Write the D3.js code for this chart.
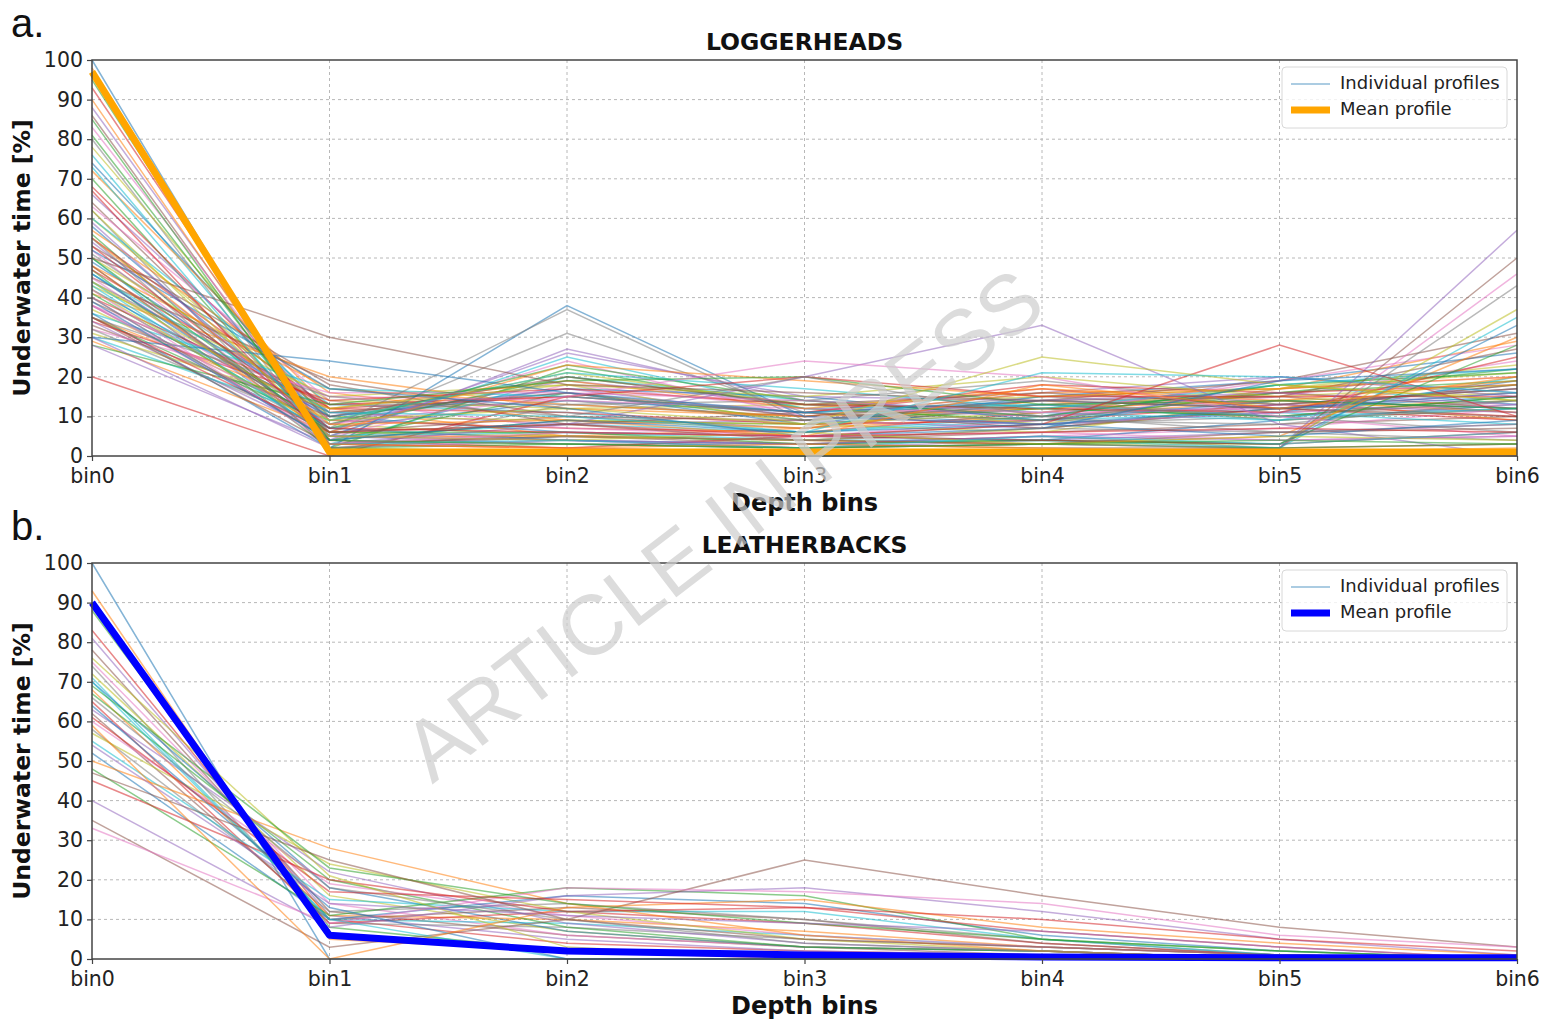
<!DOCTYPE html>
<html>
<head>
<meta charset="utf-8">
<script src="https://cdn.jsdelivr.net/npm/d3@7"></script>
<style>
  body { margin: 0; background: #fff; }
  svg { display: block; }
</style>
</head>
<body>
<div id="container"></div>
<script>
const bins = ["bin0", "bin1", "bin2", "bin3", "bin4", "bin5", "bin6"];
const yTicks = [0, 10, 20, 30, 40, 50, 60, 70, 80, 90, 100];

// loggerhead individual profiles, % underwater time per depth bin
const loggerheadProfiles = [
    [100, 0, 0, 0, 0, 0, 0],
    [98, 1, 0, 1, 0, 0, 0],
    [95, 2, 1, 0, 1, 0, 1],
    [93, 4, 2, 1, 1, 2, 3],
    [88, 5, 3, 2, 4, 6, 8],
    [86, 3, 5, 4, 6, 8, 10],
    [83, 6, 4, 3, 5, 7, 12],
    [80, 2, 6, 5, 8, 10, 6],
    [78, 8, 5, 4, 7, 12, 14],
    [76, 5, 8, 6, 9, 11, 8],
    [74, 10, 6, 5, 4, 9, 13],
    [72, 12, 5, 7, 10, 14, 9],
    [70, 4, 9, 8, 12, 10, 15],
    [68, 9, 7, 6, 11, 16, 12],
    [66, 11, 8, 9, 7, 13, 17],
    [64, 6, 10, 7, 13, 15, 11],
    [63, 14, 7, 5, 9, 17, 20],
    [62, 1, 13, 10, 15, 12, 18],
    [60, 10, 9, 8, 6, 14, 16],
    [60, 13, 11, 6, 10, 18, 13],
    [58, 7, 14, 11, 8, 11, 19],
    [57, 16, 9, 7, 14, 9, 12],
    [56, 4, 16, 9, 12, 16, 22],
    [55, 12, 11, 8, 9, 13, 10],
    [54, 9, 17, 10, 16, 20, 15],
    [53, 18, 8, 11, 7, 12, 18],
    [52, 5, 18, 12, 10, 15, 24],
    [51, 11, 14, 9, 13, 11, 14],
    [50, 14, 12, 13, 8, 17, 21],
    [50, 3, 20, 14, 11, 9, 12],
    [49, 10, 16, 8, 15, 19, 26],
    [48, 17, 13, 10, 12, 14, 11],
    [47, 2, 22, 12, 9, 16, 19],
    [47, 12, 15, 11, 17, 12, 9],
    [46, 8, 19, 13, 10, 20, 16],
    [45, 19, 10, 9, 14, 15, 27],
    [45, 6, 24, 10, 8, 11, 13],
    [44, 13, 13, 14, 19, 13, 17],
    [43, 15, 18, 8, 11, 18, 14],
    [43, 5, 25, 12, 13, 9, 20],
    [42, 10, 17, 15, 9, 14, 12],
    [41, 20, 12, 10, 16, 17, 29],
    [41, 7, 20, 13, 12, 10, 15],
    [40, 13, 15, 11, 18, 16, 18],
    [40, 4, 27, 14, 10, 13, 11],
    [39, 11, 16, 10, 14, 19, 31],
    [38, 15, 14, 12, 11, 12, 16],
    [38, 6, 31, 11, 9, 8, 14],
    [37, 9, 21, 13, 15, 17, 23],
    [36, 17, 15, 11, 13, 10, 12],
    [36, 2, 38, 10, 8, 12, 15],
    [35, 12, 19, 12, 17, 14, 19],
    [35, 8, 23, 14, 10, 18, 21],
    [34, 14, 17, 13, 12, 11, 25],
    [34, 5, 26, 15, 14, 16, 13],
    [33, 10, 20, 13, 16, 13, 17],
    [32, 16, 16, 14, 11, 19, 28],
    [32, 7, 37, 9, 13, 10, 14],
    [31, 12, 18, 15, 20, 15, 18],
    [30, 9, 21, 17, 12, 18, 22],
    [30, 24, 16, 11, 14, 12, 16],
    [29, 6, 23, 19, 15, 17, 20],
    [28, 13, 19, 20, 13, 14, 12],
    [20, 0, 15, 20, 15, 15, 15],
    [30, 2, 4, 2, 3, 2, 57],
    [35, 3, 5, 3, 2, 2, 50],
    [38, 5, 4, 2, 3, 2, 46],
    [40, 4, 3, 3, 5, 2, 43],
    [42, 6, 5, 4, 3, 3, 37],
    [44, 5, 6, 4, 4, 2, 35],
    [46, 7, 4, 3, 4, 3, 33],
    [48, 5, 5, 4, 3, 5, 30],
    [50, 6, 6, 3, 4, 3, 28],
    [35, 6, 8, 5, 8, 28, 10],
    [28, 3, 8, 20, 33, 8, 0],
    [50, 30, 18, 16, 14, 12, 10],
    [38, 8, 15, 24, 20, 10, 5],
    [35, 15, 10, 20, 10, 6, 4],
    [44, 9, 12, 8, 25, 18, 14],
    [46, 11, 10, 6, 21, 20, 16],
    [52, 17, 12, 5, 7, 19, 22],
    [55, 8, 9, 5, 18, 12, 20],
    [85, 2, 3, 2, 3, 2, 3],
    [67, 3, 2, 5, 4, 3, 6],
    [59, 5, 4, 3, 5, 4, 5],
    [48, 6, 8, 4, 3, 6, 7],
    [42, 3, 6, 5, 6, 4, 5],
    [55, 2, 5, 4, 7, 6, 8],
    [62, 5, 4, 6, 3, 5, 4],
    [73, 3, 4, 2, 5, 3, 6],
    [39, 4, 9, 6, 8, 5, 9],
    [90, 3, 2, 3, 2, 1, 2],
    [81, 4, 3, 2, 3, 4, 3],
    [53, 7, 6, 5, 6, 7, 6]
];

const leatherbackProfiles = [
    [100, 0, 0, 0, 0, 0, 0],
    [93, 5, 2, 0, 0, 0, 0],
    [88, 8, 2, 1, 1, 0, 0],
    [83, 10, 4, 2, 1, 0, 0],
    [81, 11, 5, 2, 1, 0, 0],
    [78, 12, 6, 3, 1, 0, 0],
    [75, 14, 6, 3, 2, 0, 0],
    [74, 9, 8, 5, 3, 1, 0],
    [72, 16, 7, 3, 2, 0, 0],
    [71, 10, 9, 6, 3, 1, 0],
    [70, 18, 7, 3, 2, 0, 0],
    [68, 11, 10, 7, 3, 1, 0],
    [67, 20, 8, 3, 2, 0, 0],
    [65, 9, 12, 9, 4, 1, 0],
    [63, 22, 9, 4, 2, 0, 0],
    [62, 10, 13, 10, 4, 1, 0],
    [60, 19, 11, 6, 3, 1, 0],
    [58, 12, 14, 10, 5, 1, 0],
    [57, 24, 12, 5, 2, 0, 0],
    [55, 15, 12, 12, 5, 1, 0],
    [52, 10, 16, 14, 6, 2, 0],
    [50, 28, 14, 6, 2, 0, 0],
    [48, 11, 18, 16, 5, 2, 0],
    [45, 20, 12, 13, 7, 3, 0],
    [40, 8, 16, 18, 12, 5, 1],
    [35, 3, 10, 25, 16, 8, 3],
    [33, 9, 18, 17, 14, 6, 3],
    [66, 18, 10, 4, 2, 0, 0],
    [76, 21, 3, 0, 0, 0, 0],
    [70, 10, 0, 0, 0, 0, 0],
    [64, 13, 0, 0, 0, 0, 0],
    [59, 0, 13, 15, 8, 4, 1],
    [69, 23, 14, 9, 5, 2, 0],
    [61, 17, 15, 13, 10, 5, 2],
    [54, 14, 11, 9, 7, 3, 0],
    [47, 25, 10, 5, 3, 1, 0]
];

const loggerheadMean = [97, 1, 1, 1, 1, 1, 1];
const leatherbackMean = [90, 6, 2, 1, 0.5, 0.3, 0.3];

const panels = [
    {letter: "a.", title: "LOGGERHEADS", profiles: loggerheadProfiles, mean: loggerheadMean, meanColor: "#ffa500", top: 60},
    {letter: "b.", title: "LEATHERBACKS", profiles: leatherbackProfiles, mean: leatherbackMean, meanColor: "#0000ff", top: 563}
];

const width = 1546;
const height = 1023;
const left = 92, right = 1517, plotH = 396;
const font = "'DejaVu Sans', sans-serif";

const svg = d3.create("svg")
    .attr("width", width)
    .attr("height", height)
    .style("background", "#fff");

const x = d3.scalePoint().domain(bins).range([left, right]);
const colors = d3.schemeCategory10;

panels.forEach(p => {
    const y = d3.scaleLinear().domain([0, 100]).range([p.top + plotH, p.top]);
    const g = svg.append("g");

    // grid
    g.selectAll("line.hgrid")
        .data(yTicks.slice(1, -1))
        .enter().append("line")
        .attr("x1", left).attr("x2", right)
        .attr("y1", d => y(d)).attr("y2", d => y(d))
        .attr("stroke", "#b8b8b8").attr("stroke-width", 1)
        .attr("stroke-dasharray", "3,3");
    g.selectAll("line.vgrid")
        .data(bins.slice(1, -1))
        .enter().append("line")
        .attr("x1", d => x(d)).attr("x2", d => x(d))
        .attr("y1", p.top).attr("y2", p.top + plotH)
        .attr("stroke", "#b8b8b8").attr("stroke-width", 1)
        .attr("stroke-dasharray", "3,3");

    const line = d3.line()
        .x((d, i) => x(bins[i]))
        .y(d => y(d));

    g.selectAll("path.profile")
        .data(p.profiles)
        .enter().append("path")
        .attr("d", line)
        .attr("fill", "none")
        .attr("stroke", (d, i) => colors[i % 10])
        .attr("stroke-opacity", 0.55)
        .attr("stroke-width", 1.5);

    g.append("path")
        .datum(p.mean)
        .attr("d", line)
        .attr("fill", "none")
        .attr("stroke", p.meanColor)
        .attr("stroke-width", 7)
        .attr("stroke-linejoin", "round");

    // frame
    g.append("rect")
        .attr("x", left).attr("y", p.top)
        .attr("width", right - left).attr("height", plotH)
        .attr("fill", "none")
        .attr("stroke", "#444").attr("stroke-width", 1.5);

    const yAxis = d3.axisLeft(y).tickValues(yTicks).tickSize(5).tickPadding(4);
    g.append("g")
        .attr("transform", `translate(${left},0)`)
        .call(yAxis)
        .call(a => a.select(".domain").remove())
        .call(a => a.selectAll("line").attr("stroke", "#444").attr("stroke-width", 1.2))
        .call(a => a.selectAll("text").attr("font-family", font).attr("font-size", 20.5).attr("fill", "#222"));

    const xAxis = d3.axisBottom(x).tickSize(5).tickPadding(7);
    g.append("g")
        .attr("transform", `translate(0,${p.top + plotH})`)
        .call(xAxis)
        .call(a => a.select(".domain").remove())
        .call(a => a.selectAll("line").attr("stroke", "#444").attr("stroke-width", 1.2))
        .call(a => a.selectAll("text").attr("font-family", font).attr("font-size", 20.5).attr("fill", "#222"));

    g.append("text")
        .attr("x", (left + right) / 2).attr("y", p.top - 10)
        .attr("text-anchor", "middle")
        .attr("font-family", font).attr("font-weight", "bold").attr("font-size", 23.5)
        .attr("fill", "#111")
        .text(p.title);

    g.append("text")
        .attr("x", (left + right) / 2).attr("y", p.top + plotH + 55)
        .attr("text-anchor", "middle")
        .attr("font-family", font).attr("font-weight", "bold").attr("font-size", 24)
        .attr("fill", "#111")
        .text("Depth bins");

    g.append("text")
        .attr("transform", `translate(30,${p.top + plotH / 2}) rotate(-90)`)
        .attr("text-anchor", "middle")
        .attr("font-family", font).attr("font-weight", "bold").attr("font-size", 23.5)
        .attr("fill", "#111")
        .text("Underwater time [%]");

    g.append("text")
        .attr("x", 11).attr("y", p.top - 23)
        .attr("font-family", "'Liberation Sans', Arial, sans-serif").attr("font-size", 40)
        .attr("fill", "#111")
        .text(p.letter);

    // legend
    const lg = g.append("g").attr("transform", `translate(1282,${p.top + 7})`);
    lg.append("rect")
        .attr("width", 225).attr("height", 61).attr("rx", 4)
        .attr("fill", "#fff").attr("fill-opacity", 0.8)
        .attr("stroke", "#d8d8d8");
    const legendItems = [
        {label: "Individual profiles", color: colors[0], w: 1.5, op: 0.5},
        {label: "Mean profile", color: p.meanColor, w: 7, op: 1}
    ];
    legendItems.forEach((it, i) => {
        lg.append("line")
            .attr("x1", 9).attr("x2", 48)
            .attr("y1", 17 + i * 26).attr("y2", 17 + i * 26)
            .attr("stroke", it.color).attr("stroke-width", it.w).attr("stroke-opacity", it.op);
        lg.append("text")
            .attr("x", 58).attr("y", 17 + i * 26)
            .attr("dominant-baseline", "middle")
            .attr("font-family", font).attr("font-size", 18)
            .attr("fill", "#222")
            .text(it.label);
    });
});

// watermark
svg.append("text")
    .attr("transform", "translate(727,530) rotate(-37.5)")
    .attr("text-anchor", "middle")
    .attr("dominant-baseline", "middle")
    .attr("font-family", "'Liberation Sans', Arial, sans-serif")
    .attr("font-size", 85)
    .attr("fill", "#cdcdcd")
    .attr("fill-opacity", 0.7)
    .text("ARTICLE IN PRESS");

d3.select("#container").append(() => svg.node());
</script>
</body>
</html>
